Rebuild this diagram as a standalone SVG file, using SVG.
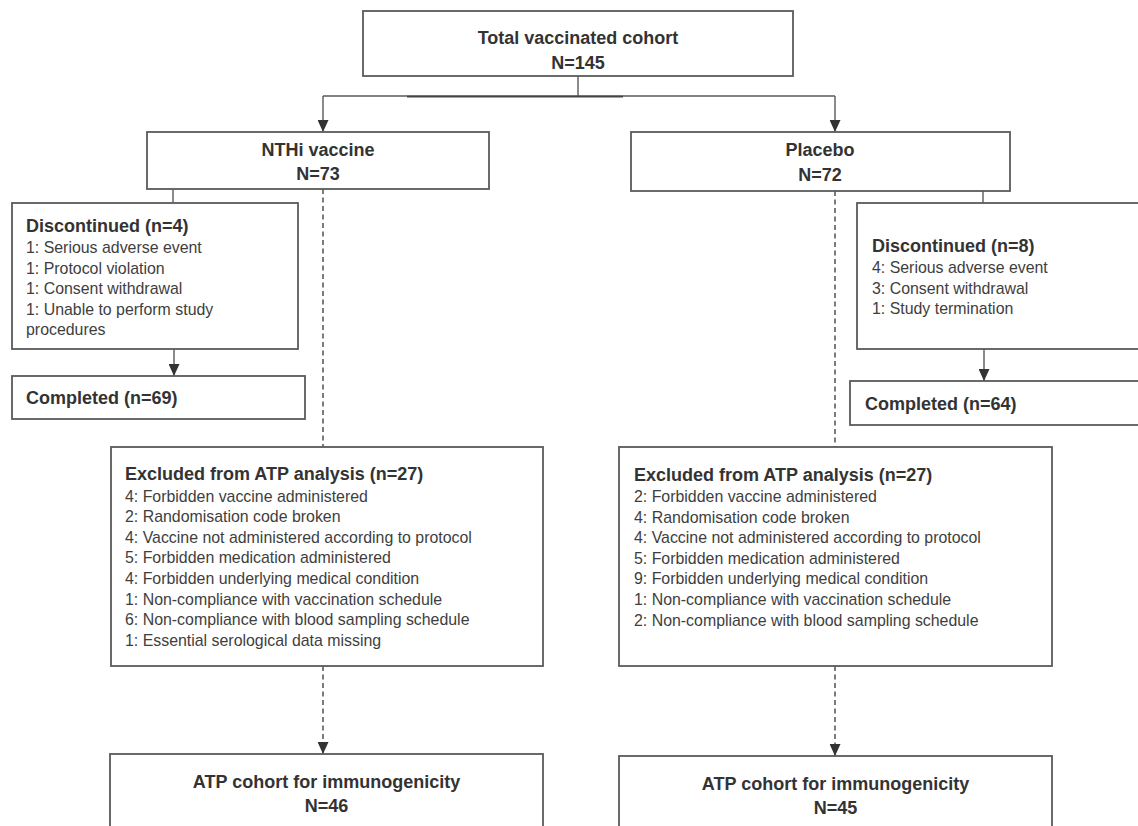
<svg xmlns="http://www.w3.org/2000/svg" width="1138" height="826" viewBox="0 0 1138 826">
<style>
.box{fill:#fff;stroke:#5a5a5a;stroke-width:1.8}
.t{font-family:"Liberation Sans",Arial,sans-serif;font-weight:bold;font-size:18px;fill:#333}
.c{text-anchor:middle}
.i{font-family:"Liberation Sans",Arial,sans-serif;font-size:15.9px;fill:#3e3e3e}
.ln{stroke:#5a5a5a;stroke-width:1.4;fill:none}
.ds{stroke:#444;stroke-width:1.4;fill:none;stroke-dasharray:5,3.5}
</style>
<defs>
<marker id="ah" viewBox="0 0 12 11" refX="12" refY="5.5" markerWidth="12" markerHeight="11" markerUnits="userSpaceOnUse" orient="auto">
<path d="M0,0 L12,5.5 L0,11 z" fill="#333"/>
</marker>
</defs>
<rect width="1138" height="826" fill="#fff"/>
<g id="connectors">
<line class="ln" x1="578" y1="76" x2="578" y2="96"/>
<line class="ln" x1="323" y1="96" x2="835" y2="96"/>
<line x1="407" y1="96.6" x2="623" y2="96.6" stroke="#444" stroke-width="1.6"/>
<line class="ln" x1="323" y1="96" x2="323" y2="132" marker-end="url(#ah)"/>
<line class="ln" x1="835" y1="96" x2="835" y2="132" marker-end="url(#ah)"/>
<line class="ln" x1="173" y1="189" x2="173" y2="203"/>
<line class="ln" x1="174" y1="349" x2="174" y2="376" marker-end="url(#ah)"/>
<line class="ds" x1="323" y1="189" x2="323" y2="447"/>
<line class="ds" x1="323" y1="666" x2="323" y2="754" marker-end="url(#ah)"/>
<line class="ln" x1="983" y1="191" x2="983" y2="203"/>
<line class="ln" x1="984" y1="349" x2="984" y2="381" marker-end="url(#ah)"/>
<line class="ds" x1="835" y1="191" x2="835" y2="447"/>
<line class="ds" x1="835" y1="666" x2="835" y2="756" marker-end="url(#ah)"/>
</g>
<g id="total">
<rect class="box" x="363" y="11" width="430" height="65"/>
<text class="t c" x="578" y="44">Total vaccinated cohort</text>
<text class="t c" x="578" y="69">N=145</text>
</g>
<g id="nthi">
<rect class="box" x="147" y="132" width="342" height="57"/>
<text class="t c" x="318" y="156">NTHi vaccine</text>
<text class="t c" x="318" y="180">N=73</text>
</g>
<g id="placebo">
<rect class="box" x="631" y="132" width="379" height="59"/>
<text class="t c" x="820" y="156">Placebo</text>
<text class="t c" x="820" y="181">N=72</text>
</g>
<g id="disc-left">
<rect class="box" x="12" y="203" width="286" height="146"/>
<text class="t" x="26" y="232">Discontinued (n=4)</text>
<text class="i" x="26" y="253">1: Serious adverse event</text>
<text class="i" x="26" y="273.5">1: Protocol violation</text>
<text class="i" x="26" y="294">1: Consent withdrawal</text>
<text class="i" x="26" y="314.5">1: Unable to perform study</text>
<text class="i" x="26" y="335">procedures</text>
</g>
<g id="comp-left">
<rect class="box" x="12" y="376" width="293" height="43"/>
<text class="t" x="26" y="404">Completed (n=69)</text>
</g>
<g id="disc-right">
<rect class="box" x="857" y="203" width="300" height="146"/>
<text class="t" x="872" y="252">Discontinued (n=8)</text>
<text class="i" x="872" y="273">4: Serious adverse event</text>
<text class="i" x="872" y="294">3: Consent withdrawal</text>
<text class="i" x="872" y="314">1: Study termination</text>
</g>
<g id="comp-right">
<rect class="box" x="850" y="381" width="300" height="44"/>
<text class="t" x="865" y="410">Completed (n=64)</text>
</g>
<g id="excl-left">
<rect class="box" x="111" y="447" width="432" height="219"/>
<text class="t" x="125" y="480">Excluded from ATP analysis (n=27)</text>
<text class="i" x="125" y="501.5">4: Forbidden vaccine administered</text>
<text class="i" x="125" y="522.1">2: Randomisation code broken</text>
<text class="i" x="125" y="542.7">4: Vaccine not administered according to protocol</text>
<text class="i" x="125" y="563.3">5: Forbidden medication administered</text>
<text class="i" x="125" y="583.9">4: Forbidden underlying medical condition</text>
<text class="i" x="125" y="604.5">1: Non-compliance with vaccination schedule</text>
<text class="i" x="125" y="625.1">6: Non-compliance with blood sampling schedule</text>
<text class="i" x="125" y="645.7">1: Essential serological data missing</text>
</g>
<g id="excl-right">
<rect class="box" x="619" y="447" width="433" height="219"/>
<text class="t" x="634" y="481">Excluded from ATP analysis (n=27)</text>
<text class="i" x="634" y="502">2: Forbidden vaccine administered</text>
<text class="i" x="634" y="522.6">4: Randomisation code broken</text>
<text class="i" x="634" y="543.2">4: Vaccine not administered according to protocol</text>
<text class="i" x="634" y="563.8">5: Forbidden medication administered</text>
<text class="i" x="634" y="584.4">9: Forbidden underlying medical condition</text>
<text class="i" x="634" y="605">1: Non-compliance with vaccination schedule</text>
<text class="i" x="634" y="625.6">2: Non-compliance with blood sampling schedule</text>
</g>
<g id="atp-left">
<rect class="box" x="110" y="754" width="433" height="100"/>
<text class="t c" x="326.5" y="788">ATP cohort for immunogenicity</text>
<text class="t c" x="326.5" y="812">N=46</text>
</g>
<g id="atp-right">
<rect class="box" x="619" y="756" width="433" height="100"/>
<text class="t c" x="835.5" y="790">ATP cohort for immunogenicity</text>
<text class="t c" x="835.5" y="814">N=45</text>
</g>
</svg>
